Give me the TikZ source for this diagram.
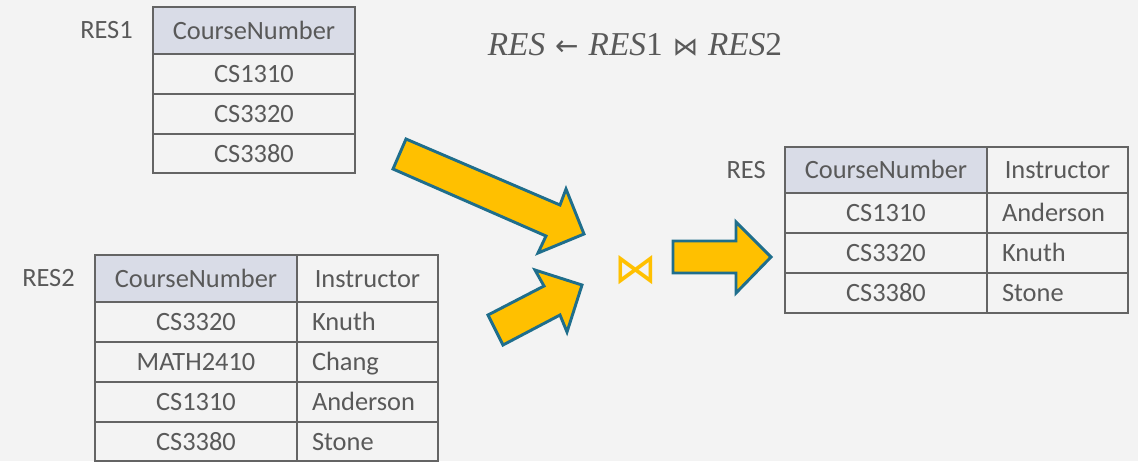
\documentclass[tikz,border=0pt]{standalone}
\usepackage{fontspec}
\setmainfont{Carlito}
\newfontfamily\symfont{DejaVu Sans}
\newfontfamily\exprfont{Liberation Serif}
\usetikzlibrary{positioning}

\definecolor{bgcol}{HTML}{F3F3F3}
\definecolor{inkcol}{HTML}{595959}
\definecolor{rulecol}{HTML}{646464}
\definecolor{headcol}{HTML}{D9DCE7}
\definecolor{arrowfill}{HTML}{FFC000}
\definecolor{arrowedge}{HTML}{1F6E8C}

\tikzset{
  cell/.style={draw=rulecol, line width=2.1pt, fill=bgcol, text=inkcol,
    inner sep=0pt, outer sep=0pt, font=\fontsize{19.8}{24}\selectfont,
    text height=14.5pt, text depth=1.75pt},
  headcell/.style={cell, fill=headcol},
  namecell/.style={cell, align=left, inner xsep=11.25pt},
  tablelabel/.style={text=inkcol, font=\fontsize{19.8}{24}\selectfont,
    anchor=east, inner sep=0pt},
  blockarrow/.style={fill=arrowfill, draw=arrowedge, line width=2.2pt,
    line join=miter},
}

\begin{document}
\begin{tikzpicture}[x=0.75pt,y=-0.75pt]
  % canvas
  \fill[bgcol] (0,0) rectangle (1138,461);
  \useasboundingbox (0,0) rectangle (1138,461);

  % relational expression
  \node[anchor=base, text=inkcol, font=\exprfont\fontsize{25}{30}\selectfont, inner sep=0pt]
    (expr) at (635,55)
    {\textit{RES}\hspace{0.3em}{\symfont\fontsize{21}{30}\selectfont ←}\hspace{0.3em}\textit{RES}1\hspace{0.3em}{\symfont\fontsize{19}{30}\selectfont ⋈}\hspace{0.3em}\textit{RES}2};

  % RES1
  \node[headcell, minimum width=202*0.75pt, minimum height=47*0.75pt] (a0) at (254,30.5) {CourseNumber};
  \node[cell, minimum width=202*0.75pt, minimum height=40*0.75pt] (a1) at (254,74) {CS1310};
  \node[cell, minimum width=202*0.75pt, minimum height=40*0.75pt] (a2) at (254,114) {CS3320};
  \node[cell, minimum width=202*0.75pt, minimum height=39*0.75pt] (a3) at (254,153.5) {CS3380};
  \node[tablelabel, left=20*0.75pt of a0] (lab1) {RES1};

  % RES2
  \node[headcell, minimum width=202*0.75pt, minimum height=47*0.75pt] (b0) at (196,278.5) {CourseNumber};
  \node[cell, minimum width=141*0.75pt, minimum height=47*0.75pt] (c0) at (367.5,278.5) {Instructor};
  \node[cell, minimum width=202*0.75pt, minimum height=40*0.75pt] (b1) at (196,322) {CS3320};
  \node[namecell, text width=111*0.75pt, minimum height=40*0.75pt] (c1) at (367.5,322) {Knuth};
  \node[cell, minimum width=202*0.75pt, minimum height=40*0.75pt] (b2) at (196,362) {MATH2410};
  \node[namecell, text width=111*0.75pt, minimum height=40*0.75pt] (c2) at (367.5,362) {Chang};
  \node[cell, minimum width=202*0.75pt, minimum height=40*0.75pt] (b3) at (196,402) {CS1310};
  \node[namecell, text width=111*0.75pt, minimum height=40*0.75pt] (c3) at (367.5,402) {Anderson};
  \node[cell, minimum width=202*0.75pt, minimum height=39*0.75pt] (b4) at (196,441.5) {CS3380};
  \node[namecell, text width=111*0.75pt, minimum height=39*0.75pt] (c4) at (367.5,441.5) {Stone};
  \node[tablelabel, left=20*0.75pt of b0] (lab2) {RES2};

  % RES
  \node[headcell, minimum width=202*0.75pt, minimum height=46*0.75pt] (d0) at (886,170) {CourseNumber};
  \node[cell, minimum width=141*0.75pt, minimum height=46*0.75pt] (e0) at (1057.5,170) {Instructor};
  \node[cell, minimum width=202*0.75pt, minimum height=40*0.75pt] (d1) at (886,213) {CS1310};
  \node[namecell, text width=111*0.75pt, minimum height=40*0.75pt] (e1) at (1057.5,213) {Anderson};
  \node[cell, minimum width=202*0.75pt, minimum height=40*0.75pt] (d2) at (886,253) {CS3320};
  \node[namecell, text width=111*0.75pt, minimum height=40*0.75pt] (e2) at (1057.5,253) {Knuth};
  \node[cell, minimum width=202*0.75pt, minimum height=40*0.75pt] (d3) at (886,293) {CS3380};
  \node[namecell, text width=111*0.75pt, minimum height=40*0.75pt] (e3) at (1057.5,293) {Stone};
  \node[tablelabel, left=19*0.75pt of d0] (lab3) {RES};

  % join operator
  \node[text=arrowfill, font=\symfont\fontsize{32}{36}\selectfont, inner sep=0pt]
    (join) at (636,270) {⋈};

  % block arrows feeding the join and leading to the result
  \draw[blockarrow] (406,139) -- (560,205) -- (566,189) -- (584,234)
    -- (538,253) -- (546,236) -- (393,169) -- cycle;
  \draw[blockarrow] (488,315) -- (544,286) -- (535,270) -- (582,285)
    -- (567,332) -- (560,315) -- (503,345) -- cycle;
  \draw[blockarrow] (673,241) -- (736,241) -- (736,222) -- (771,257)
    -- (736,293) -- (736,273) -- (673,273) -- cycle;
\end{tikzpicture}
\end{document}
